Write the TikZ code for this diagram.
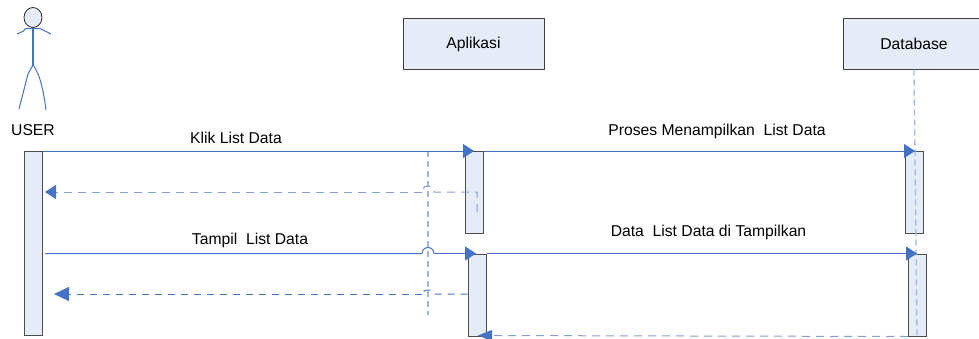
\documentclass[tikz,border=0pt]{standalone}
\usepackage{fontspec}
\setmainfont{Liberation Sans}
\usetikzlibrary{arrows.meta,shapes.geometric}
\definecolor{ln}{HTML}{4472C4}
\definecolor{lnl}{HTML}{9DB7E0}
\definecolor{lnm}{HTML}{7FA0D6}
\definecolor{fillb}{HTML}{E6ECF7}
\tikzset{
  x=1pt,y=-1pt,
  head/.style={draw=black!75,fill=fillb,line width=.9pt,minimum width=141pt,minimum height=51pt,inner sep=0pt,font=\fontsize{15.7}{17}\selectfont},
  act/.style={draw=black!70,fill=fillb,line width=1pt,minimum width=18pt,anchor=north west,inner sep=0pt},
  msg/.style={draw=ln,line width=1pt},
  ret/.style={draw=ln,line width=1pt,dash pattern=on 7pt off 6pt},
  retl/.style={draw=lnm,line width=1pt,dash pattern=on 8pt off 6pt},
  life/.style={draw=lnl,line width=1.3pt,dash pattern=on 6pt off 4pt},
  tip/.style={-{Triangle[length=11pt,width=14pt,fill=ln,color=ln]}},
  longtip/.style={-{Triangle[length=15pt,width=14pt,fill=ln,color=ln]}},
  lowtip/.style={-{Triangle[length=14pt,width=11pt,fill=ln,color=ln]}},
  lbl/.style={font=\fontsize{15.7}{17}\selectfont,inner sep=0pt},
  actor/.style={draw=ln,line width=1pt}
}
\begin{document}
\begin{tikzpicture}
\useasboundingbox (0,0) rectangle (979,338);
\node[head] (aplikasi) at (473.5,44) {Aplikasi};
\node[head] (database) at (914,44) {Database};
% actor
\node[draw=black!85,fill=fillb,ellipse,minimum width=18pt,minimum height=20pt,inner sep=0pt,line width=.8pt] (head) at (33,17.5) {};
\coordinate (hip) at (33,65);
\draw[actor,line width=1.3pt] (head.south) -- (hip);
\draw[actor] (17,34) .. controls (24,31) .. (26,28.5) -- (40,28.5) .. controls (43,30) .. (51,34);
\draw[actor] (hip) -- (28,74) -- (19,109);
\draw[actor] (hip) .. controls (38,71) and (43,85) .. (46,110);
\node[lbl] (user) at (33,130) {USER};
% activations
\node[act,minimum height=184pt] (uact) at (24,151) {};
\node[act,minimum height=82pt] (a1) at (464.5,151) {};
\node[act,minimum height=82pt] (a2) at (467.5,253.5) {};
\node[act,minimum height=82pt] (d1) at (905,151) {};
\node[act,minimum height=82pt] (d2) at (908,253.5) {};
% lifelines
\coordinate (ltop) at (428,151);
\coordinate (lbot) at (428,315);
\draw[life] (ltop) -- (lbot);
\coordinate (dbot) at (917,335);
\draw[life] (914,69.5) -- (dbot);
% messages
\coordinate (t1) at (474,151);
\draw[msg,tip] (uact.north east) -- (t1);
\node[lbl] (m1) at (236,138) {Klik List Data};
\coordinate (t2) at (915,151);
\draw[msg,tip] (a1.north east) -- (t2);
\node[lbl] (m2) at (717,131) {Proses Menampilkan\ \ List Data};
\coordinate (r1e) at (45,192);
\draw[retl] (477,212) -- (477,192) -- (434,192) arc (0:-180:6 and 6) -- (422,192);
\draw[retl,tip] (422,192) -- (r1e);
\coordinate (s3) at (45,253.5);
\coordinate (t3) at (476,253.5);
\draw[msg] (s3) -- (422,253.5) arc (180:360:6 and 6) -- (434,253.5);
\draw[msg,tip] (434,253.5) -- (t3);
\node[lbl] (m3) at (250,240) {Tampil\ \ List Data};
\coordinate (t4) at (917,253.5);
\draw[msg,tip] (a2.north east) -- (t4);
\node[lbl] (m4) at (708.5,232) {Data\ \ List Data di Tampilkan};
\coordinate (r2e) at (54,294);
\draw[ret] (a2.west |- 0,294) -- (434,294) arc (0:-180:6 and 4) -- (422,294);
\draw[ret,longtip] (422,294) -- (r2e);
\coordinate (t5) at (478,335.5);
\draw[retl,lowtip] (d2.south west) -- (t5);
\end{tikzpicture}
\end{document}
